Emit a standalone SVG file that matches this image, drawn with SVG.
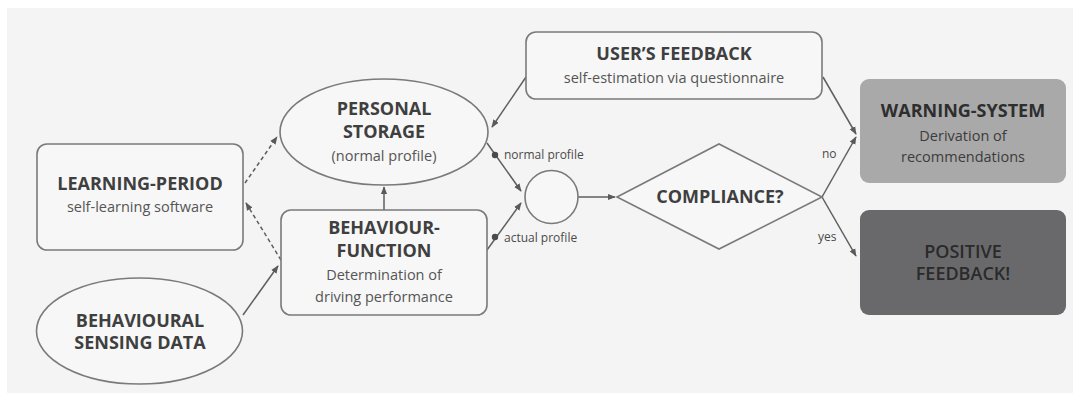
<svg xmlns="http://www.w3.org/2000/svg" width="1075" height="395" viewBox="0 0 1075 395">
  <defs>
    <marker id="arrow" viewBox="0 0 10 10" refX="9" refY="5" markerWidth="8" markerHeight="8" markerUnits="userSpaceOnUse" orient="auto">
      <path d="M0,1 L10,5 L0,9 Z" fill="#5a5a5a"/>
    </marker>
    <style>
      .shape { fill: none; stroke: #7a7a7a; stroke-width: 1.6; }
      .box { fill: #f7f7f7; stroke: #7a7a7a; stroke-width: 1.6; }
      .title { font-family: "Open Sans", "Noto Sans", sans-serif; font-weight: 700; font-size: 18px; fill: #3f3f3f; text-anchor: middle; }
      .sub { font-family: "Open Sans", "Noto Sans", sans-serif; font-size: 14.5px; fill: #555; text-anchor: middle; }
      .lbl { font-family: "Open Sans", "Noto Sans", sans-serif; font-size: 12px; fill: #4a4a4a; }
      .line { stroke: #5f5f5f; stroke-width: 1.5; fill: none; marker-end: url(#arrow); }
      .dash { stroke-dasharray: 4 3; }
    </style>
  </defs>

  <!-- background panel -->
  <rect x="0" y="0" width="1075" height="395" fill="#ffffff"/>
  <rect x="7" y="8" width="1066" height="385" fill="#f4f4f4"/>

  <!-- connectors -->
  <g id="connectors">
    <line class="line dash" x1="245" y1="183" x2="277" y2="137"/>
    <line class="line dash" x1="281" y1="260" x2="246" y2="203"/>
    <line class="line" x1="243" y1="315" x2="278" y2="266"/>
    <line class="line" x1="384" y1="210" x2="384" y2="187"/>
    <line class="line" x1="526" y1="77" x2="492" y2="127"/>
    <line class="line" x1="823" y1="77" x2="856" y2="134"/>
    <line class="line" x1="487" y1="143" x2="521" y2="191"/>
    <line class="line" x1="487" y1="250" x2="521" y2="203"/>
    <line class="line" x1="578" y1="197" x2="615" y2="197"/>
    <line class="line" x1="822" y1="197" x2="856" y2="137"/>
    <line class="line" x1="822" y1="197" x2="856" y2="256"/>
    <circle cx="495" cy="155" r="3.2" fill="#4a4a4a"/>
    <circle cx="495" cy="237" r="3.2" fill="#4a4a4a"/>
    <text class="lbl" x="504" y="159">normal profile</text>
    <text class="lbl" x="504" y="242">actual profile</text>
    <text class="lbl" x="822" y="158">no</text>
    <text class="lbl" x="818" y="241">yes</text>
  </g>

  <g id="learning-period">
    <rect class="box" x="37" y="144" width="206" height="106" rx="10"/>
    <text class="title" x="140" y="190">LEARNING-PERIOD</text>
    <text class="sub" x="140" y="212">self-learning software</text>
  </g>

  <g id="behavioural-sensing-data">
    <ellipse class="box" cx="139.5" cy="331" rx="103" ry="53"/>
    <text class="title" x="140" y="327">BEHAVIOURAL</text>
    <text class="title" x="140" y="349">SENSING DATA</text>
  </g>

  <g id="personal-storage">
    <ellipse class="box" cx="384" cy="132" rx="104" ry="53"/>
    <text class="title" x="384" y="115">PERSONAL</text>
    <text class="title" x="384" y="138">STORAGE</text>
    <text class="sub" x="384" y="161">(normal profile)</text>
  </g>

  <g id="behaviour-function">
    <rect class="box" x="281" y="210" width="206" height="105" rx="10"/>
    <text class="title" x="384" y="234">BEHAVIOUR-</text>
    <text class="title" x="384" y="257">FUNCTION</text>
    <text class="sub" x="384" y="280">Determination of</text>
    <text class="sub" x="384" y="302">driving performance</text>
  </g>

  <g id="users-feedback">
    <rect class="box" x="526" y="32" width="296" height="67" rx="10"/>
    <text class="title" x="674" y="60">USER’S FEEDBACK</text>
    <text class="sub" x="674" y="83">self-estimation via questionnaire</text>
  </g>

  <g id="merge">
    <circle class="box" cx="551.5" cy="197" r="26.5"/>
  </g>

  <g id="compliance">
    <polygon class="box" points="617,197 719,144 822,197 719,249"/>
    <text class="title" x="720" y="203">COMPLIANCE?</text>
  </g>

  <g id="warning-system">
    <rect x="860" y="79" width="206" height="104" rx="9" fill="#a9a9a9"/>
    <text class="title" x="963" y="117" style="fill:#2e2e2e">WARNING-SYSTEM</text>
    <text class="sub" x="963" y="141" style="fill:#3c3c3c">Derivation of</text>
    <text class="sub" x="963" y="162" style="fill:#3c3c3c">recommendations</text>
  </g>

  <g id="positive-feedback">
    <rect x="860" y="210" width="206" height="105" rx="9" fill="#69696b"/>
    <text class="title" x="963" y="258" style="fill:#2a2a2a;font-weight:600">POSITIVE</text>
    <text class="title" x="963" y="280" style="fill:#2a2a2a;font-weight:600">FEEDBACK!</text>
  </g>
</svg>
